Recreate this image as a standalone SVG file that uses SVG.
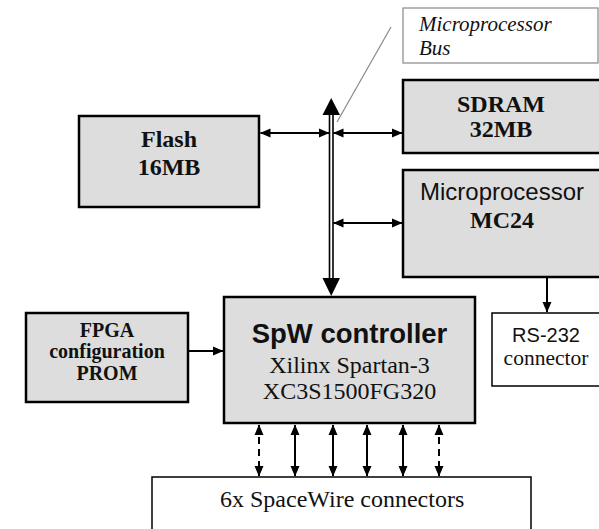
<svg xmlns="http://www.w3.org/2000/svg" width="599" height="529" viewBox="0 0 599 529">
<style>
.box{fill:#dddddd;stroke:#000;stroke-width:2.5}
.wbox{fill:#fff;stroke:#000;stroke-width:1.5}
.tb{font-family:"Liberation Serif",serif;font-weight:bold;fill:#111}
.t{font-family:"Liberation Serif",serif;fill:#111}
.s{font-family:"Liberation Sans",sans-serif;fill:#111}
.ln{stroke:#000;stroke-width:2;fill:none}
.dash{stroke-dasharray:7,5}
</style>
<defs>
<marker id="ah" markerUnits="userSpaceOnUse" markerWidth="11" markerHeight="10" refX="10" refY="5" orient="auto-start-reverse" viewBox="0 0 11 10">
<path d="M0,0.5 L10.5,5 L0,9.5 z" fill="#000"/>
</marker>
</defs>
<g id="bus-label">
<rect x="403" y="8" width="195" height="55" fill="#fff" stroke="#888" stroke-width="1.2"/>
<text class="t" x="419" y="31" font-size="21" font-style="italic">Microprocessor</text>
<text class="t" x="419" y="55" font-size="21" font-style="italic">Bus</text>
</g>
<g id="flash">
<rect class="box" x="79" y="116" width="180" height="91"/>
<text class="tb" x="169" y="147" font-size="24" text-anchor="middle">Flash</text>
<text class="tb" x="169" y="175" font-size="24" text-anchor="middle">16MB</text>
</g>
<g id="sdram">
<rect class="box" x="403" y="80" width="200" height="73"/>
<text class="tb" x="501" y="112" font-size="24" text-anchor="middle">SDRAM</text>
<text class="tb" x="501" y="137" font-size="24" text-anchor="middle">32MB</text>
</g>
<g id="microprocessor">
<rect class="box" x="403" y="170" width="200" height="107"/>
<text class="s" x="502" y="200" font-size="24" text-anchor="middle">Microprocessor</text>
<text class="tb" x="502" y="228" font-size="24" text-anchor="middle">MC24</text>
</g>
<g id="rs232">
<rect class="wbox" x="492" y="313" width="110" height="73"/>
<text class="s" x="546" y="342" font-size="20" text-anchor="middle">RS-232</text>
<text class="t" x="546" y="365" font-size="21.5" text-anchor="middle">connector</text>
</g>
<g id="fpga-prom">
<rect class="box" x="26" y="313" width="162" height="89"/>
<text class="tb" x="107" y="337" font-size="20" text-anchor="middle">FPGA</text>
<text class="tb" x="107" y="358" font-size="20" text-anchor="middle">configuration</text>
<text class="tb" x="107" y="380" font-size="20" text-anchor="middle">PROM</text>
</g>
<g id="spw-controller">
<rect class="box" x="224" y="297" width="251" height="126"/>
<text class="s" x="349.5" y="343" font-size="27.5" font-weight="bold" text-anchor="middle">SpW controller</text>
<text class="t" x="349.5" y="373" font-size="24" text-anchor="middle">Xilinx Spartan-3</text>
<text class="t" x="349.5" y="399" font-size="24" text-anchor="middle">XC3S1500FG320</text>
</g>
<g id="spacewire-connectors">
<rect class="wbox" x="152" y="477" width="379" height="70"/>
<text class="t" x="220" y="507" font-size="24">6x SpaceWire connectors</text>
</g>
<g id="connectors">
<line x1="391" y1="27" x2="337" y2="122" stroke="#888" stroke-width="1.2"/>
<line x1="329.5" y1="112" x2="329.5" y2="281" stroke="#000" stroke-width="1.6"/>
<line x1="333" y1="112" x2="333" y2="281" stroke="#000" stroke-width="1.6"/>
<polygon points="331.2,98 322.5,115 340,115" fill="#000"/>
<polygon points="331.2,296 322.5,278 340,278" fill="#000"/>
<line class="ln" x1="260.5" y1="133" x2="329" y2="133" marker-start="url(#ah)" marker-end="url(#ah)"/>
<line class="ln" x1="333.5" y1="133" x2="402" y2="133" marker-start="url(#ah)" marker-end="url(#ah)"/>
<line class="ln" x1="333.5" y1="223" x2="402" y2="223" marker-start="url(#ah)" marker-end="url(#ah)"/>
<line class="ln" x1="547" y1="278" x2="547" y2="312" marker-end="url(#ah)"/>
<line class="ln" x1="188" y1="351" x2="223" y2="351" marker-end="url(#ah)"/>
<line class="ln dash" x1="259" y1="425" x2="259" y2="476" marker-start="url(#ah)" marker-end="url(#ah)"/>
<line class="ln" x1="295" y1="425" x2="295" y2="476" marker-start="url(#ah)" marker-end="url(#ah)"/>
<line class="ln" x1="333" y1="425" x2="333" y2="476" marker-start="url(#ah)" marker-end="url(#ah)"/>
<line class="ln" x1="367" y1="425" x2="367" y2="476" marker-start="url(#ah)" marker-end="url(#ah)"/>
<line class="ln" x1="403" y1="425" x2="403" y2="476" marker-start="url(#ah)" marker-end="url(#ah)"/>
<line class="ln dash" x1="439" y1="425" x2="439" y2="476" marker-start="url(#ah)" marker-end="url(#ah)"/>
</g>
</svg>
